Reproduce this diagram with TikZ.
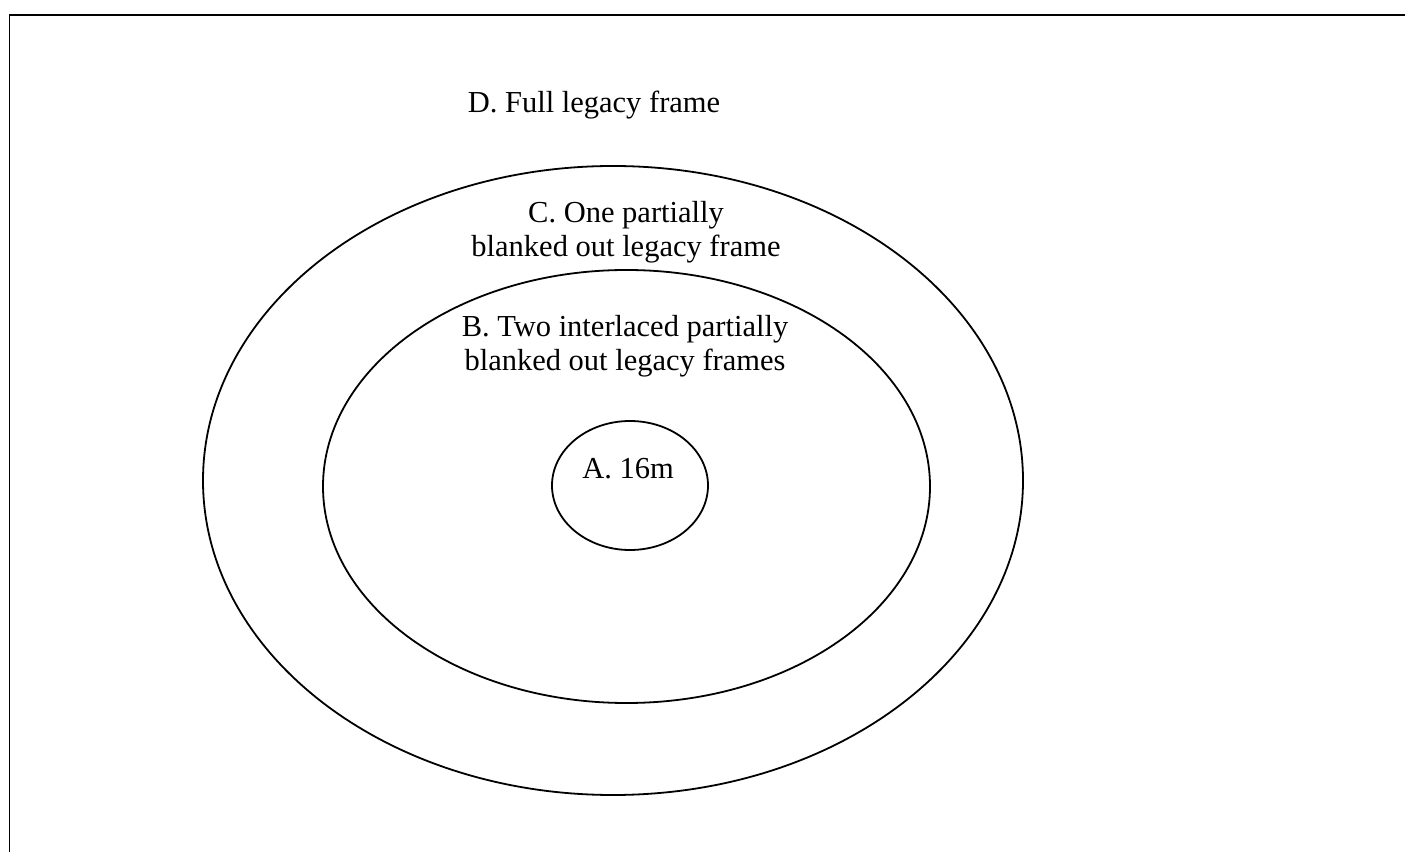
\documentclass[tikz,border=0pt]{standalone}
\usepackage{fontspec}
\setmainfont{Liberation Serif}
\begin{document}
\begin{tikzpicture}[x=1pt,y=1pt,
  shape line/.style={draw=black,line width=1.8pt},
  lbl/.style={font=\fontsize{30.5}{34}\selectfont,align=center,inner sep=0pt,anchor=base}]
\useasboundingbox (0,0) rectangle (1405,852);
% frame
\coordinate (tr) at (1405,837);
\coordinate (tl) at (9.5,837);
\coordinate (bl) at (9.5,0);
\draw[shape line] (tr) -- (tl) -- (bl);
% ellipses
\draw[shape line] (613,371.5) ellipse (410 and 314.5);
\draw[shape line] (626.5,365.5) ellipse (303.5 and 216.5);
\draw[shape line] (630,366.5) ellipse (78 and 64.5);
% labels (base = last line's baseline)
\node[lbl] (D) at (594,739) {D. Full legacy frame};
\node[lbl] (C) at (626,595) {C. One partially\\blanked out legacy frame};
\node[lbl] (B) at (625,481) {B. Two interlaced partially\\blanked out legacy frames};
\node[lbl] (A) at (628,373) {A. 16m};
\end{tikzpicture}
\end{document}
